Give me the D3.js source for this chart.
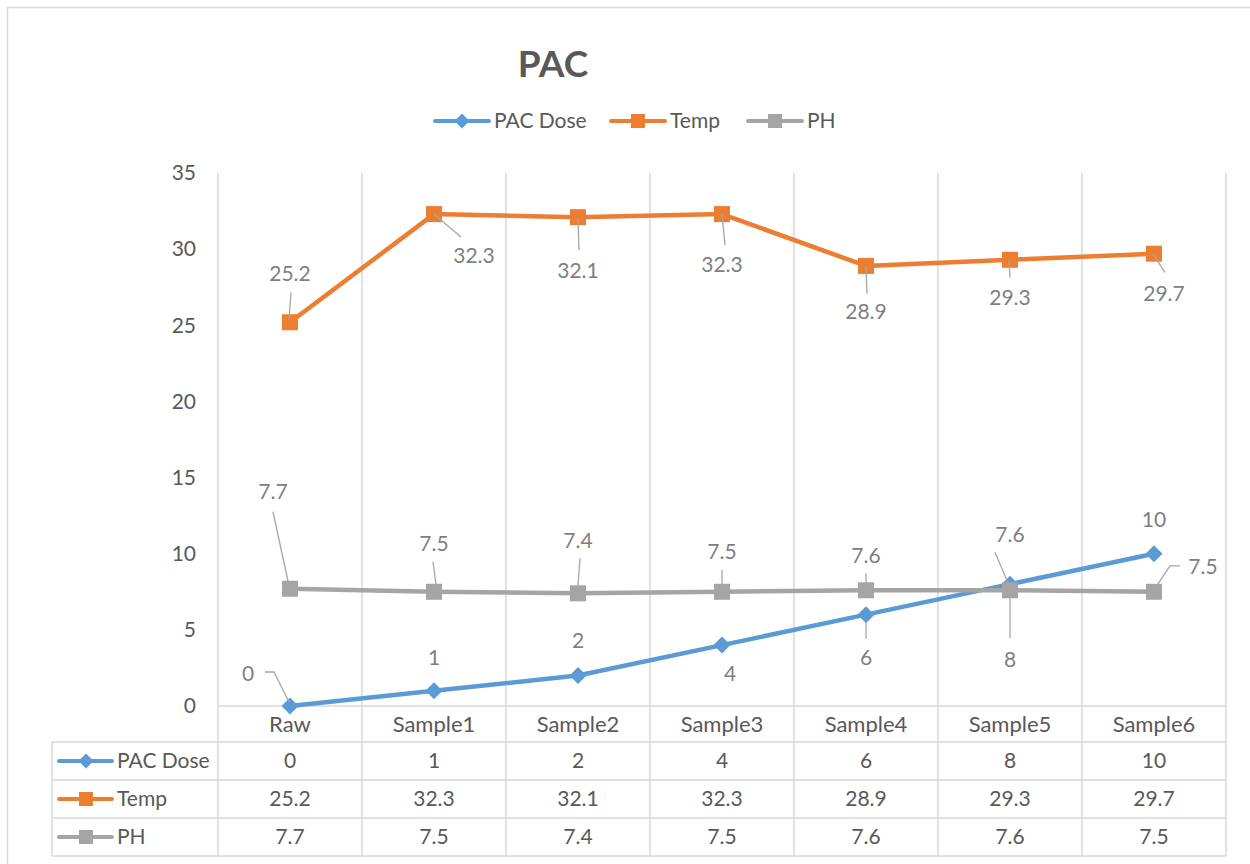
<!DOCTYPE html>
<html>
<head>
<meta charset="utf-8">
<script src="https://cdn.jsdelivr.net/npm/d3@7"></script>
<style>
  html, body { margin: 0; padding: 0; background: #fff; }
  svg { display: block; font-family: Lato, "Open Sans", sans-serif; }
</style>
</head>
<body>
<svg id="chart" width="1250" height="864"></svg>
<script>
// ---- data ----
const categories = ["Raw", "Sample1", "Sample2", "Sample3", "Sample4", "Sample5", "Sample6"];
const pacDose = [0, 1, 2, 4, 6, 8, 10];
const temp = [25.2, 32.3, 32.1, 32.3, 28.9, 29.3, 29.7];
const ph = [7.7, 7.5, 7.4, 7.5, 7.6, 7.6, 7.5];
const yTicks = [0, 5, 10, 15, 20, 25, 30, 35];

const seriesNames = ["PAC Dose", "Temp", "PH"];
const seriesColors = ["#5b9bd5", "#ed7d31", "#a5a5a5"];
const seriesMarkers = ["diamond", "square", "square"];

// label placement relative to each point: label centre offset and optional leader path
const pacLabelPos = [
  { dx: -42, dy: -32, leader: [[-25, -34], [-16, -34], [-1, -4]] },
  { dx: 0, dy: -33 },
  { dx: 0, dy: -35 },
  { dx: 8, dy: 29 },
  { dx: 0, dy: 43, leader: [[0, 6], [0, 24]] },
  { dx: 0, dy: 75, leader: [[0, 11], [0, 54]] },
  { dx: 0, dy: -34 }
];
const tempLabelPos = [
  { dx: 0, dy: -49, leader: [[1, -30], [-1, -2]] },
  { dx: 40, dy: 42, leader: [[0, 0], [27, 23]] },
  { dx: 0, dy: 53, leader: [[0, 1], [1, 33]] },
  { dx: 0, dy: 51, leader: [[0, 0], [3, 31]] },
  { dx: 0, dy: 46, leader: [[0, 0], [1, 28]] },
  { dx: 0, dy: 38, leader: [[-1, 0], [0, 18]] },
  { dx: 10, dy: 40, leader: [[-1, 0], [11, 19]] }
];
const phLabelPos = [
  { dx: -17, dy: -97, leader: [[-17, -77], [-1, -3]] },
  { dx: 0, dy: -48, leader: [[-1, -30], [2, -7]] },
  { dx: 0, dy: -53, leader: [[2, -35], [0, -8]] },
  { dx: 0, dy: -40, leader: [[0, -22], [0, -7]] },
  { dx: 0, dy: -35, leader: [[0, -17], [0, -5]] },
  { dx: 0, dy: -56, leader: [[-15, -38], [-1, -5]] },
  { dx: 49, dy: -25, leader: [[26, -26], [16, -26], [4, -8]] }
];

const allSeries = [pacDose, temp, ph];
const allLabelPos = [pacLabelPos, tempLabelPos, phLabelPos];

// ---- layout ----
const svg = d3.select("#chart");
const plotLeft = 218, plotRight = 1226, plotTop = 173, plotBottom = 706;
const tableLeft = 52;
const rowLines = [742, 780, 818, 856];
const textGrey = "#595959";
const labelGrey = "#7f7f7f";
const gridColor = "#d9d9d9";

const x = d3.scaleBand().domain(categories).range([plotLeft, plotRight]);
const y = d3.scaleLinear().domain([0, 35]).range([plotBottom, plotTop]);
const cx = c => x(c) + x.bandwidth() / 2;

// outer frame (left and top edges)
svg.append("path")
  .attr("d", `M7.5,864 V7.5 H1250`)
  .attr("fill", "none").attr("stroke", gridColor).attr("stroke-width", 1.5);

// title
svg.append("text")
  .attr("x", 553).attr("y", 77)
  .attr("text-anchor", "middle")
  .attr("font-size", 37).attr("font-weight", "bold")
  .attr("fill", textGrey)
  .text("PAC");

// marker drawing helper
function drawMarker(g, type, px, py, size, color) {
  if (type === "diamond") {
    const h = size / 2;
    g.append("path")
      .attr("d", `M${px},${py - h} L${px + h},${py} L${px},${py + h} L${px - h},${py} Z`)
      .attr("fill", color);
  } else {
    g.append("rect")
      .attr("x", px - size / 2).attr("y", py - size / 2)
      .attr("width", size).attr("height", size)
      .attr("fill", color);
  }
}

// legend
const legendItems = [{ x: 435 }, { x: 611 }, { x: 748 }];
const legend = svg.append("g");
seriesNames.forEach((name, i) => {
  const lx = legendItems[i].x, ly = 121;
  legend.append("line")
    .attr("x1", lx).attr("x2", lx + 54).attr("y1", ly).attr("y2", ly)
    .attr("stroke", seriesColors[i]).attr("stroke-width", 4).attr("stroke-linecap", "round");
  drawMarker(legend, seriesMarkers[i], lx + 27, ly, seriesMarkers[i] === "diamond" ? 15 : 14, seriesColors[i]);
  legend.append("text")
    .attr("x", lx + 59).attr("y", ly).attr("dy", "0.35em")
    .attr("font-size", 21).attr("fill", textGrey)
    .text(name);
});

// vertical grid / column lines through plot and table
const colEdges = categories.map(c => x(c)).concat([plotRight]);
svg.append("g").selectAll("line").data(colEdges).join("line")
  .attr("x1", d => d).attr("x2", d => d)
  .attr("y1", plotTop).attr("y2", rowLines[rowLines.length - 1])
  .attr("stroke", gridColor).attr("stroke-width", 1.5);

// table left border
svg.append("line")
  .attr("x1", tableLeft).attr("x2", tableLeft)
  .attr("y1", rowLines[0]).attr("y2", rowLines[rowLines.length - 1])
  .attr("stroke", gridColor).attr("stroke-width", 1.5);

// horizontal axis line and table row lines
svg.append("line")
  .attr("x1", plotLeft).attr("x2", plotRight)
  .attr("y1", plotBottom).attr("y2", plotBottom)
  .attr("stroke", gridColor).attr("stroke-width", 1.5);
svg.append("g").selectAll("line").data(rowLines).join("line")
  .attr("x1", tableLeft).attr("x2", plotRight)
  .attr("y1", d => d).attr("y2", d => d)
  .attr("stroke", gridColor).attr("stroke-width", 1.5);

// y axis tick labels
const yAxis = d3.axisLeft(y).tickValues(yTicks).tickSize(0).tickPadding(0);
const yAxisG = svg.append("g").attr("transform", `translate(196,0)`).call(yAxis);
yAxisG.select(".domain").remove();
yAxisG.selectAll("text")
  .attr("font-family", "Lato, 'Open Sans', sans-serif")
  .attr("font-size", 21).attr("fill", textGrey);

// category labels
const xAxis = d3.axisBottom(x).tickSize(0).tickPadding(0);
const xAxisG = svg.append("g").attr("transform", `translate(0,${plotBottom + 10})`).call(xAxis);
xAxisG.select(".domain").remove();
xAxisG.selectAll("text")
  .attr("font-family", "Lato, 'Open Sans', sans-serif")
  .attr("font-size", 22).attr("fill", textGrey);

// series lines
const lineGen = d3.line().x((d, i) => cx(categories[i])).y(d => y(d));
const plotG = svg.append("g");
allSeries.forEach((vals, s) => {
  const g = plotG.append("g");
  g.append("path")
    .datum(vals)
    .attr("d", lineGen)
    .attr("fill", "none")
    .attr("stroke", seriesColors[s]).attr("stroke-width", 4.5)
    .attr("stroke-linejoin", "round").attr("stroke-linecap", "round");
  vals.forEach((v, i) => {
    drawMarker(g, seriesMarkers[s], cx(categories[i]), y(v), seriesMarkers[s] === "diamond" ? 17 : 16, seriesColors[s]);
  });
});

// data labels with leader lines
const labelG = svg.append("g");
allSeries.forEach((vals, s) => {
  vals.forEach((v, i) => {
    const px = cx(categories[i]), py = y(v);
    const pos = allLabelPos[s][i];
    if (pos.leader) {
      labelG.append("path")
        .attr("d", d3.line()(pos.leader.map(p => [px + p[0], py + p[1]])))
        .attr("fill", "none").attr("stroke", "#a6a6a6").attr("stroke-width", 1.3);
    }
    labelG.append("text")
      .attr("x", px + pos.dx).attr("y", py + pos.dy).attr("dy", "0.35em")
      .attr("text-anchor", "middle")
      .attr("font-size", 21).attr("fill", labelGrey)
      .text(v);
  });
});

// data table
const tableG = svg.append("g");
allSeries.forEach((vals, s) => {
  const top = rowLines[s], bottom = rowLines[s + 1];
  const ry = (top + bottom) / 2;
  tableG.append("line")
    .attr("x1", 59).attr("x2", 112).attr("y1", ry).attr("y2", ry)
    .attr("stroke", seriesColors[s]).attr("stroke-width", 4).attr("stroke-linecap", "round");
  drawMarker(tableG, seriesMarkers[s], 86, ry, seriesMarkers[s] === "diamond" ? 15 : 14, seriesColors[s]);
  tableG.append("text")
    .attr("x", 117).attr("y", ry).attr("dy", "0.35em")
    .attr("font-size", 21).attr("fill", textGrey)
    .text(seriesNames[s]);
  vals.forEach((v, i) => {
    tableG.append("text")
      .attr("x", cx(categories[i])).attr("y", ry).attr("dy", "0.35em")
      .attr("text-anchor", "middle")
      .attr("font-size", 21).attr("fill", textGrey)
      .text(v);
  });
});
</script>
</body>
</html>
